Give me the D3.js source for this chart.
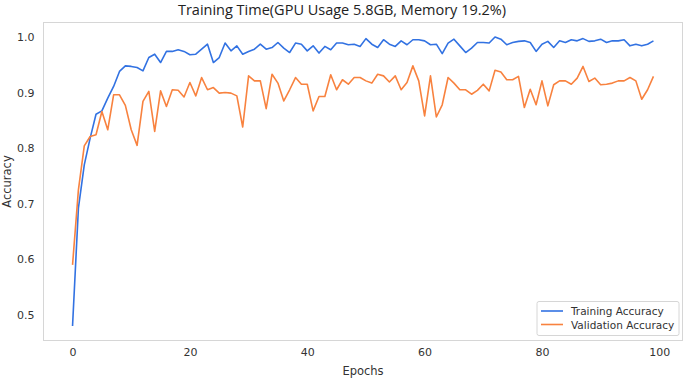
<!DOCTYPE html>
<html>
<head>
<meta charset="utf-8">
<script src="https://cdn.jsdelivr.net/npm/d3@7"></script>
<style>
  body{margin:0;background:#fff;}
  .axis text{font-family:"DejaVu Sans",sans-serif;font-size:11px;fill:#333;}
  .axis path,.axis line{display:none;}
</style>
</head>
<body>
<div id="chart"></div>
<script>
var epochs = d3.range(100);
var trainAcc = [0.48,0.692,0.77,0.818,0.861,0.867,0.89,0.911,0.938,0.948,
  0.947,0.945,0.939,0.963,0.969,0.954,0.974,0.974,0.977,0.974,
  0.968,0.969,0.978,0.987,0.954,0.963,0.989,0.975,0.984,0.969,
  0.974,0.978,0.987,0.978,0.981,0.99,0.98,0.972,0.989,0.987,
  0.975,0.984,0.971,0.983,0.977,0.989,0.989,0.986,0.987,0.983,
  0.997,0.987,0.981,0.995,0.987,0.983,0.993,0.986,0.995,0.995,
  0.993,0.986,0.987,0.97,0.989,0.996,0.984,0.972,0.98,0.99,
  0.99,0.989,1.0,0.996,0.986,0.99,0.992,0.993,0.99,0.974,
  0.987,0.992,0.981,0.993,0.99,0.995,0.993,0.997,0.992,0.993,
  0.996,0.99,0.993,0.993,0.995,0.984,0.987,0.984,0.987,0.993];
var valAcc = [0.59,0.725,0.804,0.821,0.824,0.866,0.833,0.896,0.896,0.877,
  0.833,0.805,0.884,0.902,0.83,0.903,0.875,0.905,0.904,0.892,
  0.918,0.894,0.927,0.905,0.909,0.899,0.9,0.899,0.894,0.838,
  0.93,0.921,0.921,0.871,0.933,0.917,0.885,0.905,0.927,0.915,
  0.915,0.867,0.893,0.893,0.932,0.905,0.923,0.915,0.927,0.927,
  0.921,0.917,0.933,0.93,0.919,0.93,0.905,0.918,0.948,0.921,
  0.858,0.93,0.856,0.878,0.927,0.917,0.905,0.905,0.897,0.904,
  0.915,0.903,0.94,0.937,0.923,0.923,0.929,0.873,0.906,0.878,
  0.921,0.876,0.914,0.921,0.921,0.915,0.926,0.947,0.92,0.926,
  0.914,0.915,0.917,0.921,0.921,0.927,0.921,0.888,0.905,0.929];
var xTicks = [0,20,40,60,80,100];
var yTicks = [0.5,0.6,0.7,0.8,0.9,1.0];
var seriesNames = ["Training Accuracy","Validation Accuracy"];
var seriesColors = ["#3272e2","#f8823f"];

var width=685, height=379;
var padLeft=43.5, padTop=22.5, padRight=682.5, padBottom=340.5;

var svg = d3.select("#chart").append("svg")
    .attr("width",width)
    .attr("height",height);

var xScale = d3.scaleLinear()
    .domain([-4.95,103.95])
    .range([padLeft,padRight]);
var yScale = d3.scaleLinear()
    .domain([0.454,1.026])
    .range([padBottom,padTop]);

svg.append("rect")
    .attr("x",padLeft).attr("y",padTop)
    .attr("width",padRight-padLeft).attr("height",padBottom-padTop)
    .attr("fill","none")
    .attr("stroke","#d6d6d6")
    .attr("stroke-width",1);

svg.append("g")
    .attr("class","axis")
    .attr("transform","translate(0,"+(padBottom+8)+")")
    .call(d3.axisBottom(xScale).tickValues(xTicks).tickSize(0).tickPadding(0).tickFormat(d3.format("d")));

svg.append("g")
    .attr("class","axis")
    .attr("transform","translate("+(padLeft-9)+",0)")
    .call(d3.axisLeft(yScale).tickValues(yTicks).tickSize(0).tickPadding(0).tickFormat(d3.format(".1f")));

var line = d3.line()
    .x(function(d,i){return xScale(epochs[i]);})
    .y(function(d){return yScale(d);});

[trainAcc,valAcc].forEach(function(s,i){
  svg.append("path")
    .datum(s)
    .attr("fill","none")
    .attr("stroke",seriesColors[i])
    .attr("stroke-width",1.6)
    .attr("stroke-linejoin","round")
    .attr("d",line);
});

svg.append("text")
    .attr("x",342)
    .attr("y",15)
    .attr("text-anchor","middle")
    .attr("font-family","'Open Sans',sans-serif")
    .attr("font-size",14.5)
    .attr("fill","#222")
    .text("Training Time(GPU Usage 5.8GB, Memory 19.2%)");

svg.append("text")
    .attr("x",(padLeft+padRight)/2)
    .attr("y",375)
    .attr("text-anchor","middle")
    .attr("font-family","'DejaVu Sans',sans-serif")
    .attr("font-size",11.5)
    .attr("fill","#333")
    .text("Epochs");

svg.append("text")
    .attr("transform","translate(11,"+((padTop+padBottom)/2)+") rotate(-90)")
    .attr("text-anchor","middle")
    .attr("font-family","'DejaVu Sans',sans-serif")
    .attr("font-size",11.5)
    .attr("fill","#333")
    .text("Accuracy");

// legend
var lg = svg.append("g").attr("transform","translate(537,301.5)");
lg.append("rect")
    .attr("width",142).attr("height",34).attr("rx",2)
    .attr("fill","#fff").attr("stroke","#d6d6d6");
seriesNames.forEach(function(n,i){
  lg.append("line")
    .attr("x1",4).attr("x2",26)
    .attr("y1",9.5+i*13.5).attr("y2",9.5+i*13.5)
    .attr("stroke",seriesColors[i]).attr("stroke-width",1.6);
  lg.append("text")
    .attr("x",34).attr("y",13.5+i*13.5)
    .attr("font-family","'DejaVu Sans',sans-serif")
    .attr("font-size",10.5)
    .attr("fill","#333")
    .text(n);
});
</script>
</body>
</html>
